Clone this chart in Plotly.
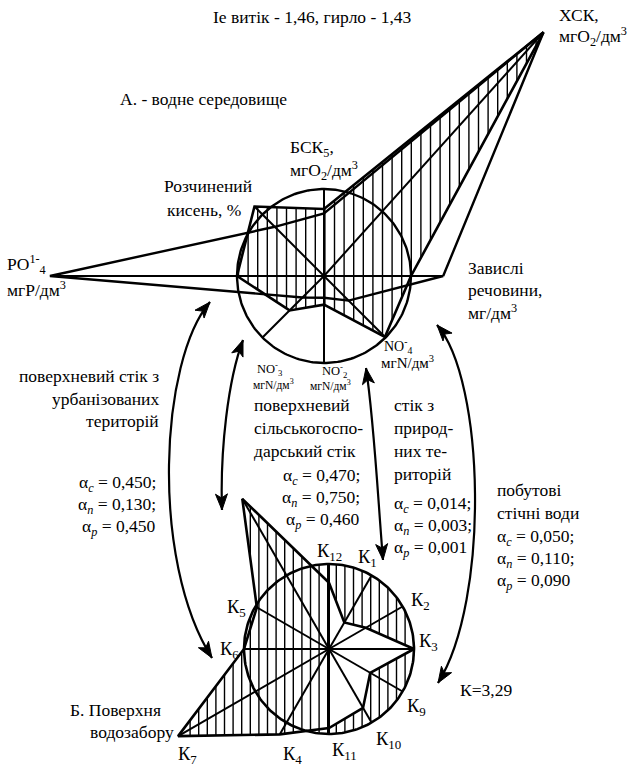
import numpy as np
import plotly.graph_objects as go

W, H = 638, 771

# ---------------- А. водне середовище (values relative to the norm circle) ----
water_axes = ["Завислі речовини", "ХСК", "БСК5", "Розчинений кисень",
              "PO4", "NO3", "NO2", "NH4"]
water_angles = [0, 48, 90, 135, 180, 225, 270, 315]
water_hatched = [1.00, 3.77, 0.77, 1.13, 1.00, 0.56, 0.33, 0.99]
water_outline = [1.37, 3.77, 0.72, 0.80, 3.15, 0.35, 0.25, 0.40]

# ---------------- Б. поверхня водозабору --------------------------------------
basin_axes = ["К12", "К1", "К2", "К3", "К9", "К10", "К11", "К4", "К7", "К6", "К5", "К8"]
basin_angles = [90, 60, 30, 0, -30, -60, -90, -120, -150, 180, 150, 120]
basin_values = [0.78, 0.36, 0.50, 1.00, 0.56, 0.80, 0.93, 1.16, 2.05, 1.00, 0.98, 2.04]

# diagram placement (plot units = pixels, y grows downward)
UP_C, UP_R = (324.0, 276.0), 87.0
LO_C, LO_R = (329.0, 649.0), 85.0

FONT = "Liberation Serif, Times New Roman, serif"
INK = "black"
FS = 17.5


def radar_xy(center, radius, angles, values):
    a = np.radians(np.asarray(angles, dtype=float))
    v = np.asarray(values, dtype=float)
    return center[0] + radius * v * np.cos(a), center[1] - radius * v * np.sin(a)


def circle_xy(center, radius, n=241):
    t = np.linspace(0, 2 * np.pi, n)
    return center[0] + radius * np.cos(t), center[1] + radius * np.sin(t)


def poly_cross(px, py, x):
    ys = []
    n = len(px)
    for i in range(n):
        x1, y1, x2, y2 = px[i], py[i], px[(i + 1) % n], py[(i + 1) % n]
        if (x1 <= x < x2) or (x2 <= x < x1):
            ys.append(y1 + (x - x1) * (y2 - y1) / (x2 - x1))
    ys.sort()
    return [(ys[k], ys[k + 1]) for k in range(0, len(ys) - 1, 2)]


def circle_cross(center, radius, x):
    d = radius ** 2 - (x - center[0]) ** 2
    if d <= 0:
        return []
    h = d ** 0.5
    return [(center[1] - h, center[1] + h)]


def union(a, b):
    out = []
    for s, e in sorted(a + b):
        if out and s <= out[-1][1]:
            out[-1] = (out[-1][0], max(out[-1][1], e))
        else:
            out.append((s, e))
    return out


def subtract(a, b):
    res = []
    for s, e in a:
        segs = [(s, e)]
        for bs, be in b:
            nxt = []
            for ss, ee in segs:
                if be <= ss or bs >= ee:
                    nxt.append((ss, ee))
                else:
                    if bs > ss:
                        nxt.append((ss, bs))
                    if be < ee:
                        nxt.append((be, ee))
            segs = nxt
        res += segs
    return res


def hatch_trace(xs, region):
    hx, hy = [], []
    for x in xs:
        for s, e in region(x):
            if e - s > 0.5:
                hx += [x, x, None]
                hy += [s, e, None]
    return go.Scatter(x=hx, y=hy, mode="lines",
                      line=dict(color=INK, width=1.4), hoverinfo="skip")


def closed(x, y):
    return list(x) + [x[0]], list(y) + [y[0]]


def spokes_trace(center, radius, angles, reach):
    sx, sy = [], []
    ex, ey = radar_xy(center, radius, angles, reach)
    for x, y in zip(ex, ey):
        sx += [center[0], x, None]
        sy += [center[1], y, None]
    return go.Scatter(x=sx, y=sy, mode="lines",
                      line=dict(color=INK, width=2), hoverinfo="skip")


fig = go.Figure()

# ---------------- upper diagram ----------------
hx_w, hy_w = radar_xy(UP_C, UP_R, water_angles, water_hatched)
ox_w, oy_w = radar_xy(UP_C, UP_R, water_angles, water_outline)

fig.add_trace(hatch_trace(np.arange(238.5, 560, 9.6),
                          lambda x: poly_cross(hx_w, hy_w, x)))
cx, cy = circle_xy(UP_C, UP_R)
fig.add_trace(go.Scatter(x=cx, y=cy, mode="lines",
                         line=dict(color=INK, width=2.4), hoverinfo="skip"))
reach_w = np.maximum(1.0, np.maximum(water_hatched, water_outline))
fig.add_trace(spokes_trace(UP_C, UP_R, water_angles, reach_w))
px, py = closed(hx_w, hy_w)
fig.add_trace(go.Scatter(x=px, y=py, mode="lines",
                         line=dict(color=INK, width=2.6), hoverinfo="skip"))
px, py = closed(ox_w, oy_w)
fig.add_trace(go.Scatter(x=px, y=py, mode="lines",
                         line=dict(color=INK, width=2.4), hoverinfo="skip"))

# ---------------- lower diagram ----------------
bx, by = radar_xy(LO_C, LO_R, basin_angles, basin_values)


def basin_region(x):
    c = circle_cross(LO_C, LO_R, x)
    p = poly_cross(bx, by, x)
    if x <= LO_C[0]:
        return union(c, p)
    return subtract(union(c, p), p)


fig.add_trace(hatch_trace(np.arange(181.5, 420, 8.6), basin_region))
cx, cy = circle_xy(LO_C, LO_R)
fig.add_trace(go.Scatter(x=cx, y=cy, mode="lines",
                         line=dict(color=INK, width=2.6), hoverinfo="skip"))
fig.add_trace(spokes_trace(LO_C, LO_R, basin_angles,
                           np.maximum(1.0, basin_values)))
px, py = closed(bx, by)
fig.add_trace(go.Scatter(x=px, y=py, mode="lines",
                         line=dict(color=INK, width=2.6), hoverinfo="skip"))

# ---------------- connecting arrows (double-headed arcs) ----------------
arcs = [
    ((210, 302), (160, 360), (150, 560), (212, 658)),
    ((243, 340), (228, 380), (220, 450), (222, 510)),
    ((366, 368), (374, 420), (378, 500), (383, 560)),
    ((437, 325), (485, 380), (490, 600), (438, 683)),
]
shapes = []
hx, hy = [], []
for p0, p1, p2, p3 in arcs:
    shapes.append(dict(type="path", xref="x", yref="y",
                       path="M {},{} C {},{} {},{} {},{}".format(*p0, *p1, *p2, *p3),
                       line=dict(color=INK, width=2.2)))
    for tip, ctrl in ((p0, p1), (p3, p2)):
        dx, dy = tip[0] - ctrl[0], tip[1] - ctrl[1]
        d = np.hypot(dx, dy)
        ux, uy = dx / d, dy / d
        bxh, byh = tip[0] - 16 * ux, tip[1] - 16 * uy
        hx += [tip[0], bxh - 6 * uy, bxh + 4 * ux, bxh + 6 * uy, tip[0], None]
        hy += [tip[1], byh + 6 * ux, byh + 4 * uy, byh - 6 * ux, tip[1], None]
fig.add_trace(go.Scatter(x=hx, y=hy, mode="lines", fill="toself",
                         fillcolor=INK, line=dict(color=INK, width=1),
                         hoverinfo="skip"))

annotations = []


def label(x, y, text, size=FS, anchor="left"):
    annotations.append(dict(x=x, y=y, xref="x", yref="y", text=text,
                            showarrow=False, xanchor=anchor, yanchor="middle",
                            font=dict(family=FONT, size=size, color=INK)))


a_c = "α<sub><i>c</i></sub> = "
a_n = "α<sub><i>n</i></sub> = "
a_p = "α<sub><i>p</i></sub> = "

label(312, 17, "Iе витік - 1,46, гирло - 1,43", anchor="center")
label(557, 15, "ХСК,")
label(557, 36, "мгO<sub>2</sub>/дм<sup>3</sup>")
label(118, 99, "А. - водне середовище")
label(288, 148, "БСК<sub>5</sub>,")
label(288, 170, "мгO<sub>2</sub>/дм<sup>3</sup>")
label(254, 186, "Розчинений", anchor="right")
label(243, 210, "кисень, %", anchor="right")
label(5, 264, "PO<sup>1-</sup><sub>4</sub>")
label(5, 289, "мгP/дм<sup>3</sup>")
label(466, 268, "Завислі")
label(466, 290, "речовини,")
label(466, 312, "мг/дм<sup>3</sup>")
label(270, 369, "NO<sup>-</sup><sub>3</sub>", size=12.5, anchor="center")
label(273, 384, "мгN/дм<sup>3</sup>", size=11.5, anchor="center")
label(334, 371, "NO<sup>-</sup><sub>2</sub>", size=12.5, anchor="center")
label(330, 385, "мгN/дм<sup>3</sup>", size=11.5, anchor="center")
label(398, 346, "NO<sup>-</sup><sub>4</sub>", size=14, anchor="center")
label(407, 362, "мгN/дм<sup>3</sup>", size=15, anchor="center")

label(161, 376, "поверхневий стік з", anchor="right")
label(161, 399, "урбанізованих", anchor="right")
label(161, 421, "територій", anchor="right")
label(158, 483, a_c + "0,450;", anchor="right")
label(158, 505, a_n + "0,130;", anchor="right")
label(158, 527, a_p + "0,450", anchor="right")

label(252, 405, "поверхневий")
label(252, 428, "сільськогоспо-")
label(252, 451, "дарський стік")
label(362, 476, a_c + "0,470;", anchor="right")
label(362, 498, a_n + "0,750;", anchor="right")
label(362, 520, a_p + "0,460", anchor="right")

label(392, 405, "стік з")
label(392, 428, "природ-")
label(392, 451, "них те-")
label(392, 474, "риторій")
label(392, 504, a_c + "0,014;")
label(392, 526, a_n + "0,003;")
label(392, 548, a_p + "0,001")

label(495, 490, "побутові")
label(495, 513, "стічні води")
label(495, 537, a_c + "0,050;")
label(495, 559, a_n + "0,110;")
label(495, 581, a_p + "0,090")

label(458, 690, "К=3,29")
label(68, 710, "Б. Поверхня")
label(176, 732, "водозабору", anchor="right")

for name, x, y in [("К<sub>12</sub>", 329, 552), ("К<sub>1</sub>", 367, 558),
                   ("К<sub>2</sub>", 420, 601), ("К<sub>3</sub>", 428, 642),
                   ("К<sub>9</sub>", 416, 707), ("К<sub>10</sub>", 388, 740),
                   ("К<sub>11</sub>", 344, 751), ("К<sub>4</sub>", 292, 755),
                   ("К<sub>7</sub>", 187, 755), ("К<sub>6</sub>", 229, 650),
                   ("К<sub>5</sub>", 236, 608)]:
    label(x, y, name, size=18.5, anchor="center")

fig.update_layout(
    width=W, height=H, margin=dict(l=0, r=0, t=0, b=0),
    paper_bgcolor="white", plot_bgcolor="white", showlegend=False,
    xaxis=dict(range=[0, W], visible=False, fixedrange=True),
    yaxis=dict(range=[H, 0], visible=False, fixedrange=True),
    shapes=shapes, annotations=annotations,
)

fig.write_html("out.html", config={"displayModeBar": False})
